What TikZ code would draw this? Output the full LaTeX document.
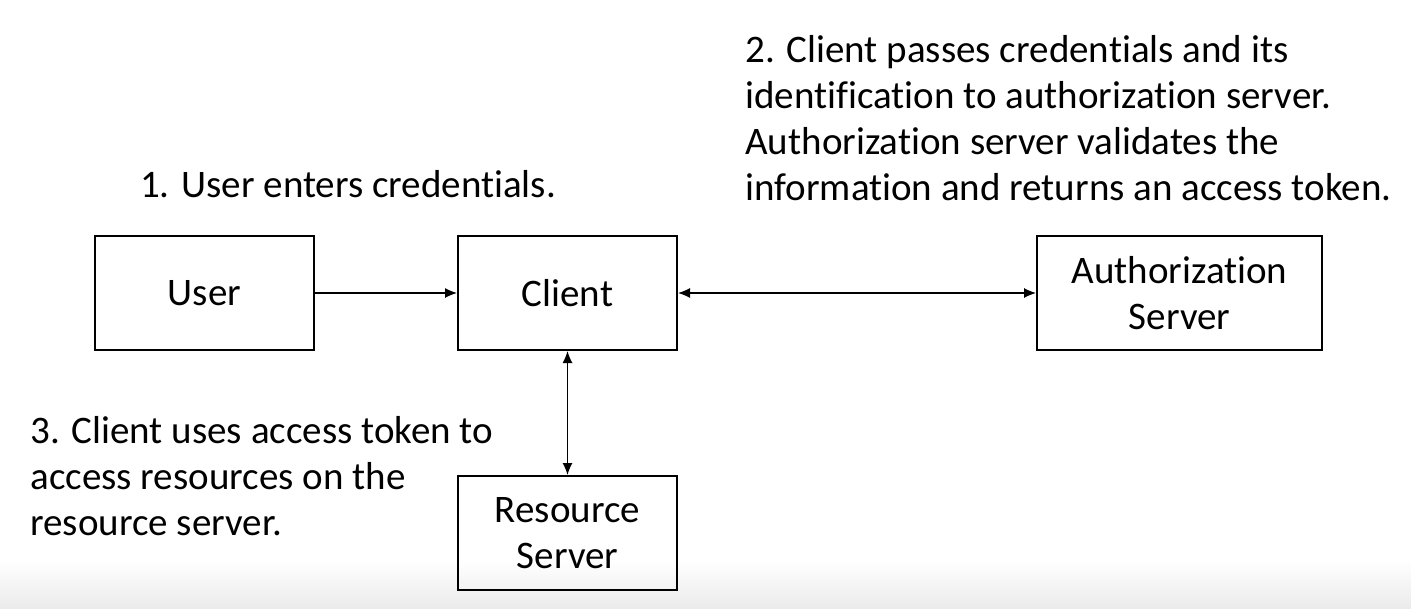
\documentclass[tikz,border=0pt]{standalone}
\usepackage{fontspec}
\setmainfont{Carlito}[Ligatures=NoCommon]
\usetikzlibrary{positioning}
\usetikzlibrary{arrows.meta}

\begin{document}
\begin{tikzpicture}[x=0.5pt,y=-0.5pt,
    box/.style={draw, line width=1pt, minimum width=109.5pt, minimum height=57pt,
      align=center, inner sep=2pt, font=\fontsize{19.5pt}{23pt}\selectfont},
    note/.style={align=left, inner sep=0pt, font=\fontsize{19.5pt}{23pt}\selectfont},
    link/.style={line width=0.6pt, -{Latex[length=6pt,width=5pt]}},
    twoway/.style={line width=0.6pt, {Latex[length=6pt,width=5pt]}-{Latex[length=6pt,width=5pt]}}]
  \useasboundingbox (0,0) rectangle (1411,609);
  \shade[top color=white, bottom color=black!8] (0,560) rectangle (1411,609);
  % boxes
  \node[box] (user) at (204.5,293) {User};
  \node[box, right=71pt of user] (client) {Client};
  \node[box, minimum width=142.5pt, right=179pt of client] (auth) {Authorization\\Server};
  \node[box, below=62pt of client] (resource) {Resource\\Server};
  % steps
  \node[note, anchor=base] (stepone) at (348,198) {1. User enters credentials.};
  \node[note, anchor=north west] (steptwo) at (745,35) {2. Client passes credentials and its\\
    identification to authorization server.\\
    Authorization server validates the\\
    information and returns an access token.};
  \node[note, anchor=north west] (stepthree) at (30,416) {3. Client uses access token to\\
    access resources on the\\
    resource server.};
  % connectors
  \draw[link] (user) -- (client);
  \draw[twoway] (client) -- (auth);
  \draw[twoway] (client) -- (resource);
\end{tikzpicture}
\end{document}
